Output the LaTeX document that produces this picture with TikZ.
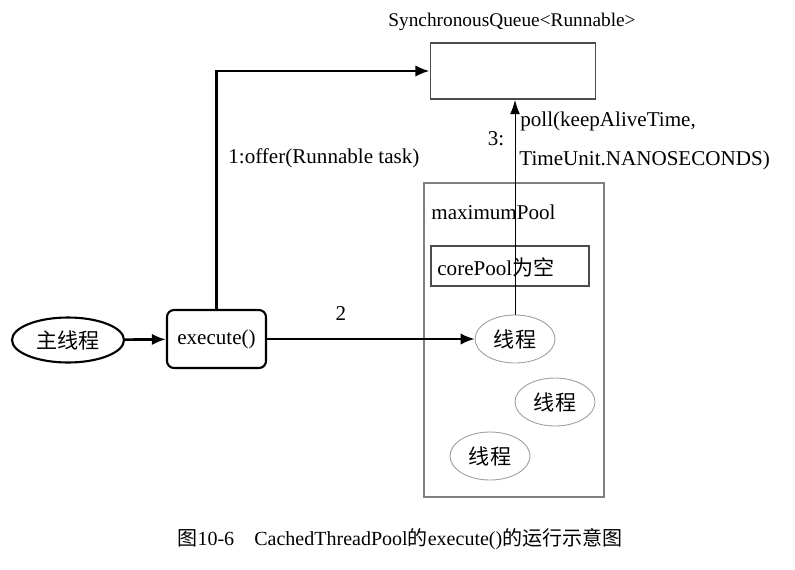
\documentclass[tikz,border=0pt]{standalone}
\usepackage{fontspec}
\setmainfont{Liberation Serif}
\newfontfamily\cjk{Noto Sans CJK SC}
\usepackage{tikz}
\usetikzlibrary{shapes.geometric}
\usetikzlibrary{positioning, arrows.meta, calc}
\definecolor{boxgray}{rgb}{0.5,0.5,0.5}
\definecolor{darkgray}{rgb}{0.3,0.3,0.3}
\definecolor{ellgray}{rgb}{0.62,0.62,0.62}

\begin{document}
\begin{tikzpicture}[x=0.02cm, y=-0.02cm, font=\fontsize{12}{14}\selectfont,
    thread/.style={ellipse, draw=ellgray, line width=0.5pt, minimum width=1.6cm, minimum height=0.96cm, inner sep=0pt},
    bigarrow/.style={line width=1.5pt, -{Latex[length=8pt, width=6.5pt]}},
    midarrow/.style={line width=1.1pt, -{Latex[length=8pt, width=6.5pt]}},
    thinarrow/.style={line width=0.5pt, -{Latex[length=8pt, width=5.5pt]}}]
    \useasboundingbox (0,0) rectangle (795,569);

    % queue and pools
    \node[draw=darkgray, line width=1.1pt, minimum width=3.3cm, minimum height=1.12cm] (queue) at (513,71) {};
    \node[font=\fontsize{11}{13}\selectfont] (qlabel) at (512,22) {SynchronousQueue<Runnable>};
    \node[draw=boxgray, line width=1.5pt, minimum width=3.6cm, minimum height=6.28cm] (maxpool) at (514,340) {};
    \node[anchor=west, inner sep=0pt] (maxlabel) at (431,212) {maximumPool};
    \node[draw=darkgray, line width=1.5pt, minimum width=3.16cm, minimum height=0.8cm] (corepool) at (510,266) {};
    \node[anchor=west, inner sep=0pt] (corelabel) at (437,267) {corePool{\cjk 为空}};

    % threads
    \foreach \x/\y/\m in {
        515/339/1, 555/402/2, 490/456/3}
        \node[thread] (t\m) at (\x,\y) {\cjk 线程};

    % caller
    \node[ellipse, draw, line width=1.2pt, minimum width=2.24cm, minimum height=0.9cm, inner sep=0pt] (main) at (68,340) {\cjk 主线程};
    \node[draw, line width=1.2pt, rounded corners=4pt, minimum width=1.98cm, minimum height=1.16cm] (exec) at (216.5,339) {execute()};

    % connectors
    \draw[bigarrow] (main) -- (exec);
    \draw[bigarrow] (exec.north) |- (queue.west);
    \draw[midarrow] (exec) -- (t1);
    \draw[thinarrow] (t1.north) -- (t1.north |- queue.south);

    % labels
    \node[anchor=west, inner sep=0pt] (offer) at (228,158) {1:offer(Runnable task)};
    \node (two) at (341,314) {2};
    \node (three) at (496,139) {3:};
    \node[anchor=west, inner sep=0pt] (poll) at (520,121) {poll(keepAliveTime,};
    \node[anchor=west, inner sep=0pt] (unit) at (519,160) {TimeUnit.NANOSECONDS)};
    \node[font=\fontsize{11.4}{13}\selectfont] (caption) at (400,539) {{\cjk 图}10-6\quad CachedThreadPool{\cjk 的}execute(){\cjk 的运行示意图}};
\end{tikzpicture}
\end{document}
